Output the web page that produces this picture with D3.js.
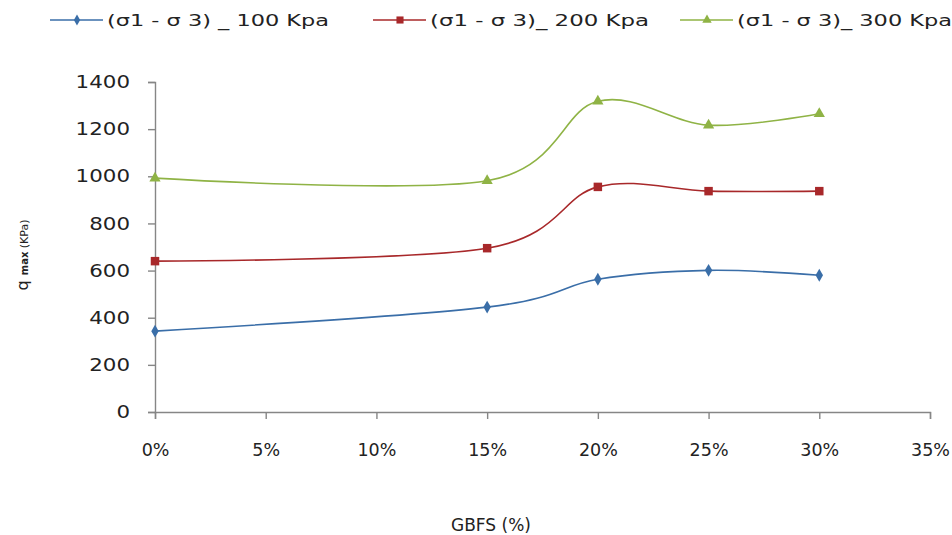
<!DOCTYPE html>
<html lang="en">
  <head>
    <meta charset="UTF-8" />
    <title>q max vs GBFS</title>
    <script src="https://d3js.org/d3.v7.min.js"></script>
    <style>
      body { margin: 0; background: #fff; }
      text { font-family: "DejaVu Sans", Verdana, sans-serif; fill: #222; }
    </style>
  </head>

  <body>
    <svg width="952" height="535"></svg>

    <script>
      // data
      const gbfs = [0, 15, 20, 25, 30];
      const q100 = [343, 445, 563, 601, 580];
      const q200 = [640, 695, 955, 937, 937];
      const q300 = [992, 981, 1318, 1217, 1265];
      const seriesNames = ["(\u03c31 - \u03c3 3)  _ 100 Kpa", "(\u03c31 - \u03c3 3)_ 200 Kpa", "(\u03c31 - \u03c3 3)_ 300 Kpa"];
      const xTicks = [0, 5, 10, 15, 20, 25, 30, 35];
      const yTicks = [0, 200, 400, 600, 800, 1000, 1200, 1400];

      const series = [
        { name: seriesNames[0], values: q100, color: "#3a6ea8", mark: d3.symbolDiamond, size: 48 },
        { name: seriesNames[1], values: q200, color: "#a8282a", mark: d3.symbolSquare, size: 72 },
        { name: seriesNames[2], values: q300, color: "#8fb345", mark: d3.symbolTriangle, size: 55 }
      ];

      let svg = d3.select("svg");

      const x = d3.scaleLinear().domain([0, 35]).range([155, 930]);
      const y = d3.scaleLinear().domain([0, 1400]).range([412, 82]);

      // axes
      const yAxis = svg.append("g")
        .attr("transform", "translate(155,0)")
        .call(d3.axisLeft(y).tickValues(yTicks).tickSize(7).tickPadding(18)
          .tickFormat(d3.format("d")));
      const xAxis = svg.append("g")
        .attr("transform", "translate(0,412)")
        .call(d3.axisBottom(x).tickValues(xTicks).tickSize(7).tickPadding(25)
          .tickFormat(d => d + "%"));

      [xAxis, yAxis].forEach(function (a) {
        a.select(".domain").attr("stroke", "#868686").attr("stroke-width", 1.4);
        a.selectAll(".tick line").attr("stroke", "#868686").attr("stroke-width", 1.4);
        a.selectAll("text").style("font-size", "17.5px").attr("fill", "#222");
      });
      // y labels are a bit wider in the original
      yAxis.selectAll(".tick text")
        .attr("textLength", d => String(d).length * 13.6)
        .attr("lengthAdjust", "spacingAndGlyphs");

      // smoothed lines like the spreadsheet ones
      const line = d3.line()
        .x((d, i) => x(gbfs[i]))
        .y(d => y(d))
        .curve(d3.curveCardinal.tension(0));

      series.forEach(function (s) {
        svg.append("path")
          .attr("d", line(s.values))
          .attr("fill", "none")
          .attr("stroke", s.color)
          .attr("stroke-width", 1.6);

        svg.append("g")
          .selectAll("path")
          .data(s.values)
          .enter()
          .append("path")
          .attr("transform", (d, i) => "translate(" + x(gbfs[i]) + "," + y(d) + ")")
          .attr("d", d3.symbol().type(s.mark).size(s.size))
          .attr("fill", s.color);
      });

      // legend
      const legendX = [50, 373, 680];
      const legendW = [222, 219, 215];
      series.forEach(function (s, i) {
        const g = svg.append("g").attr("transform", "translate(" + legendX[i] + ",20)");
        g.append("line")
          .attr("x1", 0).attr("x2", 53)
          .attr("stroke", s.color).attr("stroke-width", 1.6);
        g.append("path")
          .attr("transform", "translate(27,0)")
          .attr("d", d3.symbol().type(s.mark).size(s.size * 0.7))
          .attr("fill", s.color);
        g.append("text")
          .attr("x", 57).attr("y", 6)
          .attr("textLength", legendW[i])
          .attr("lengthAdjust", "spacingAndGlyphs")
          .style("font-size", "16px")
          .text(s.name);
      });

      // axis titles
      svg.append("text")
        .attr("transform", "translate(28,255) rotate(-90)")
        .attr("text-anchor", "middle")
        .style("font-size", "16px")
        .call(function (t) {
          t.append("tspan").text("q ");
          t.append("tspan").style("font-size", "10px").style("font-weight", "bold").text("max ");
          t.append("tspan").style("font-size", "11px").text("(KPa)");
        });

      svg.append("text")
        .attr("x", 491).attr("y", 531)
        .attr("text-anchor", "middle")
        .style("font-size", "17px")
        .text("GBFS (%)");
    </script>
  </body>
</html>
